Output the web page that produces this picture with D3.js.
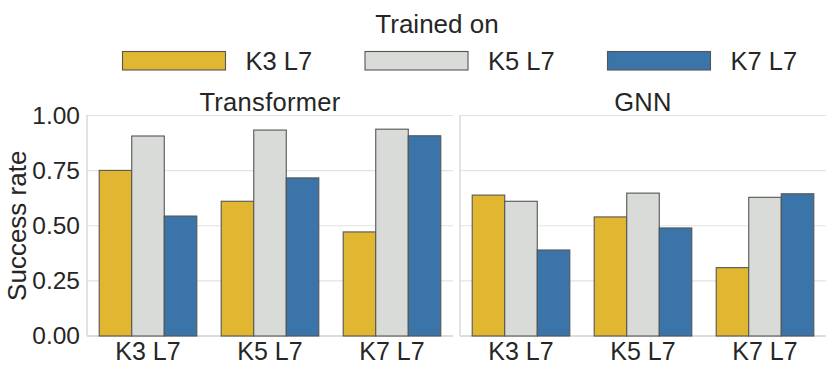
<!DOCTYPE html>
<html><head><meta charset="utf-8">
<script src="https://cdn.jsdelivr.net/npm/d3@7"></script>
<style>body{margin:0;background:#fff}svg{display:block;font-family:"Liberation Sans",Arial,sans-serif}</style>
</head><body><svg id="c" width="831" height="370"></svg>
<script>
const panels = ["Transformer", "GNN"];
const categories = ["K3 L7", "K5 L7", "K7 L7"];
const series = ["K3 L7", "K5 L7", "K7 L7"];
const colors = ["#E1B630", "#D9DBD9", "#3A74A8"];
const transformerValues = [[0.751, 0.907, 0.544], [0.611, 0.934, 0.717], [0.472, 0.938, 0.908]];
const gnnValues = [[0.639, 0.611, 0.390], [0.540, 0.648, 0.490], [0.310, 0.629, 0.645]];
const yTicks = [0, 0.25, 0.5, 0.75, 1.0];
const allValues = [transformerValues, gnnValues];

(function () {
const svg = d3.select("#c");
const plotTop = 115.5, plotBottom = 336;
const y = d3.scaleLinear().domain([0, 1]).range([plotBottom, plotTop]);
const panelX = [87, 460], panelW = 366;
const txt = "#262626";

panels.forEach((name, pi) => {
  const g = svg.append("g").attr("transform", `translate(${panelX[pi]},0)`);
  const x = d3.scaleBand().domain(categories).range([0, panelW]).paddingInner(0).paddingOuter(0);
  const xs = d3.scaleBand().domain(series).range([x.bandwidth()*0.1, x.bandwidth()*0.9]);
  g.selectAll(".grid").data(yTicks).join("line")
    .attr("x1", 0).attr("x2", panelW).attr("y1", d => y(d)).attr("y2", d => y(d))
    .attr("stroke", "#e3e3e3").attr("stroke-width", 1.2);
  g.append("line").attr("x1", 0).attr("x2", 0).attr("y1", plotTop - 0.5).attr("y2", plotBottom).attr("stroke", "#d4d4d4").attr("stroke-width", 1.3);
  g.append("line").attr("x1", 0).attr("x2", panelW).attr("y1", plotBottom).attr("y2", plotBottom).attr("stroke", "#d4d4d4").attr("stroke-width", 1.3);
  categories.forEach((c, ci) => {
    series.forEach((s, si) => {
      const v = allValues[pi][ci][si];
      g.append("rect")
        .attr("x", x(c) + xs(s)).attr("width", xs.bandwidth())
        .attr("y", y(v)).attr("height", y(0) - y(v))
        .attr("fill", colors[si]).attr("stroke", "#555").attr("stroke-width", 1.1);
    });
  });
  const xa = g.append("g").attr("transform", `translate(0,${plotBottom})`)
    .call(d3.axisBottom(x).tickSize(0).tickPadding(6));
  xa.select(".domain").remove();
  xa.selectAll("text").attr("font-size", 25).attr("fill", txt).attr("font-family", "Liberation Sans, Arial, sans-serif");
  if (pi === 0) {
    const ya = g.append("g").call(d3.axisLeft(y).tickValues(yTicks).tickFormat(d3.format(".2f")).tickSize(0).tickPadding(7));
    ya.select(".domain").remove();
    ya.selectAll("text").attr("font-size", 24.5).attr("fill", txt).attr("font-family", "Liberation Sans, Arial, sans-serif");
  }
  g.append("text").attr("x", panelW / 2).attr("y", 110.5).attr("text-anchor", "middle")
    .attr("font-size", 25.5).attr("letter-spacing", 0.3).attr("fill", txt).text(name);
});

svg.append("text").attr("transform", `translate(26,${(plotTop + plotBottom) / 2}) rotate(-90)`)
  .attr("text-anchor", "middle").attr("font-size", 26).attr("fill", txt).text("Success rate");

svg.append("text").attr("x", 437).attr("y", 33).attr("text-anchor", "middle")
  .attr("font-size", 26).attr("fill", txt).text("Trained on");
const legX = [122.5, 365, 607.5];
series.forEach((s, i) => {
  svg.append("rect").attr("x", legX[i]).attr("y", 51.5).attr("width", 103).attr("height", 18.5)
    .attr("fill", colors[i]).attr("stroke", "#555").attr("stroke-width", 1.1);
  svg.append("text").attr("x", legX[i] + 123).attr("y", 70).attr("font-size", 25.5).attr("fill", txt).text(s);
});
})();
</script></body></html>
